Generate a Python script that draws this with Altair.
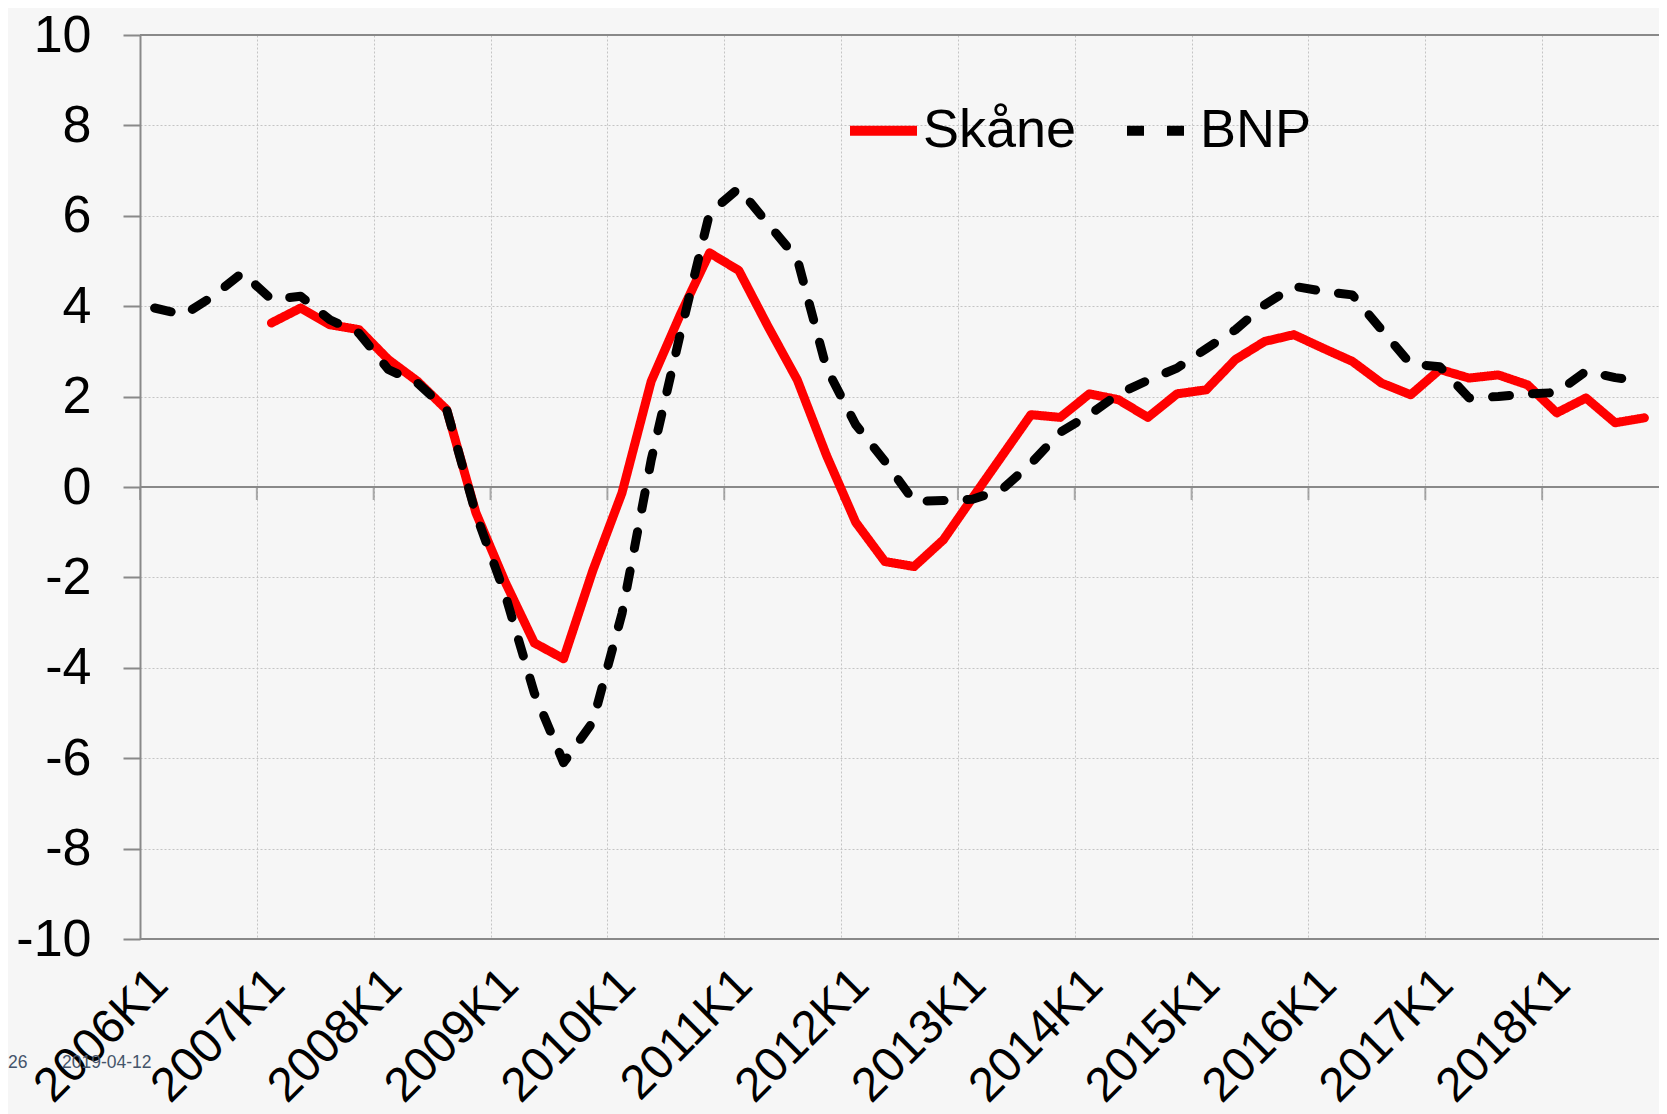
import json
import altair as alt
import pandas as pd

# ---------------- data ----------------
tick_labels = ["2006K1", "2007K1", "2008K1", "2009K1", "2010K1", "2011K1", "2012K1",
               "2013K1", "2014K1", "2015K1", "2016K1", "2017K1", "2018K1"]
n_quarters = 52
series_names = ["Skåne", "BNP"]

bnp = [3.96, 3.81, 4.22, 4.74, 4.15, 4.22, 3.70, 3.40, 2.60, 2.30, 1.71, -0.60,
       -2.38, -4.56, -6.10, -5.20, -2.80, 0.60, 3.40, 6.06, 6.61, 5.82, 5.05, 2.63,
       1.38, 0.57, -0.32, -0.30, -0.27, -0.06, 0.52, 1.21, 1.60, 2.06, 2.36, 2.63,
       3.06, 3.48, 4.03, 4.44, 4.33, 4.25, 3.48, 2.72, 2.66, 1.97, 2.00, 2.06,
       2.09, 2.56, 2.42, 2.34]
skane_start = 4  # first Skåne value is 2007K1
skane = [3.63, 3.96, 3.59, 3.48, 2.82, 2.34, 1.71, -0.57, -2.10, -3.45, -3.80, -1.85,
         -0.13, 2.34, 3.82, 5.18, 4.79, 3.55, 2.37, 0.70, -0.78, -1.65, -1.76, -1.17,
         -0.24, 0.68, 1.60, 1.54, 2.06, 1.93, 1.54, 2.06, 2.15, 2.82, 3.22, 3.37,
         3.07, 2.78, 2.30, 2.04, 2.60, 2.41, 2.48, 2.26, 1.64, 1.97, 1.42, 1.53]
y_ticks = [-10, -8, -6, -4, -2, 0, 2, 4, 6, 8, 10]
frame_lines = [-10, 0, 10]
footnotes = ["26", "2019-04-12"]

# ---------------- frames ----------------
bnp_df = pd.DataFrame({"pos": [i + 0.5 for i in range(len(bnp))],
                       "value": bnp, "serie": "BNP"})
sk_df = pd.DataFrame({"pos": [skane_start + i + 0.5 for i in range(len(skane))],
                      "value": skane, "serie": "Skåne"})
year_bounds = [4 * k for k in range(len(tick_labels))]
bounds_df = pd.DataFrame({"pos": year_bounds})
frame_df = pd.DataFrame({"value": frame_lines})

W, H = 1519, 904
GRAY = "#898989"
FONT = "Liberation Sans"

x_scale = alt.Scale(domain=[0, n_quarters], nice=False, zero=False)
y_scale = alt.Scale(domain=[-10, 10], nice=False, zero=False)

x_axis = alt.Axis(values=year_bounds,
                  labelExpr=json.dumps(tick_labels) + "[round(datum.value / 4)]",
                  labelAngle=-45, labelAlign="right", labelBaseline="middle",
                  labelFontSize=48, labelFont=FONT, labelColor="black",
                  labelPadding=38, labelOffset=20, labelOverlap=False,
                  labelBound=False, labelFlush=False,
                  domain=False, ticks=False, grid=True, gridColor="#c4c4c4",
                  gridDash=[2, 2], gridWidth=1, title=None)
y_axis = alt.Axis(values=y_ticks, labelExpr="'' + datum.value",
                  labelFontSize=52, labelFont=FONT,
                  labelColor="black", labelPadding=32,
                  domain=True, domainColor=GRAY, domainWidth=2,
                  ticks=True, tickColor=GRAY, tickWidth=2, tickSize=17,
                  grid=True, gridColor="#c4c4c4", gridDash=[2, 2], gridWidth=1,
                  title=None)

leg = alt.Legend(orient="none", legendX=705, legendY=57, direction="horizontal",
                 title=None, labelFontSize=54, labelFont=FONT, labelColor="black",
                 symbolType="stroke", symbolSize=4489, symbolStrokeWidth=10,
                 labelOffset=1, columnPadding=30, padding=0, labelLimit=0)

color = alt.Color("serie:N", scale=alt.Scale(domain=series_names,
                                             range=["#ff0000", "#000000"]), legend=leg)
dash = alt.StrokeDash("serie:N", scale=alt.Scale(domain=series_names,
                                                 range=[[1, 0], [17, 23]]), legend=leg)

X = alt.X("pos:Q", scale=x_scale, axis=x_axis)
Y = alt.Y("value:Q", scale=y_scale, axis=y_axis)

frame = alt.Chart(frame_df).mark_rule(color=GRAY, strokeWidth=2).encode(y=Y)

zero_ticks = alt.Chart(bounds_df).mark_tick(
    orient="vertical", size=13, thickness=2, color=GRAY, yOffset=6.5
).encode(x=X, y=alt.datum(0, scale=y_scale))

line_kw = dict(strokeWidth=9, strokeJoin="round", strokeCap="round")
red = alt.Chart(sk_df).mark_line(**line_kw).encode(x=X, y=Y, color=color, strokeDash=dash)
black = alt.Chart(bnp_df).mark_line(**line_kw).encode(x=X, y=Y, color=color, strokeDash=dash)

fn1 = alt.Chart(pd.DataFrame({"t": [footnotes[0]]})).mark_text(
    align="left", baseline="middle", fontSize=17.5, font=FONT, color="#44546a"
).encode(x=alt.value(-132), y=alt.value(1028), text="t:N")
fn2 = alt.Chart(pd.DataFrame({"t": [footnotes[1]]})).mark_text(
    align="left", baseline="middle", fontSize=17.5, font=FONT, color="#44546a"
).encode(x=alt.value(-78), y=alt.value(1028), text="t:N")

chart = alt.layer(fn1, fn2, frame, zero_ticks, red, black).properties(
    width=W, height=H,
    autosize=alt.AutoSizeParams(type="none"),
    padding={"left": 132, "top": 27, "right": 0, "bottom": 175},
    background="#f6f6f6",
).configure_view(stroke=None)

chart.save("out.html", embed_options={"renderer": "svg", "actions": False})
